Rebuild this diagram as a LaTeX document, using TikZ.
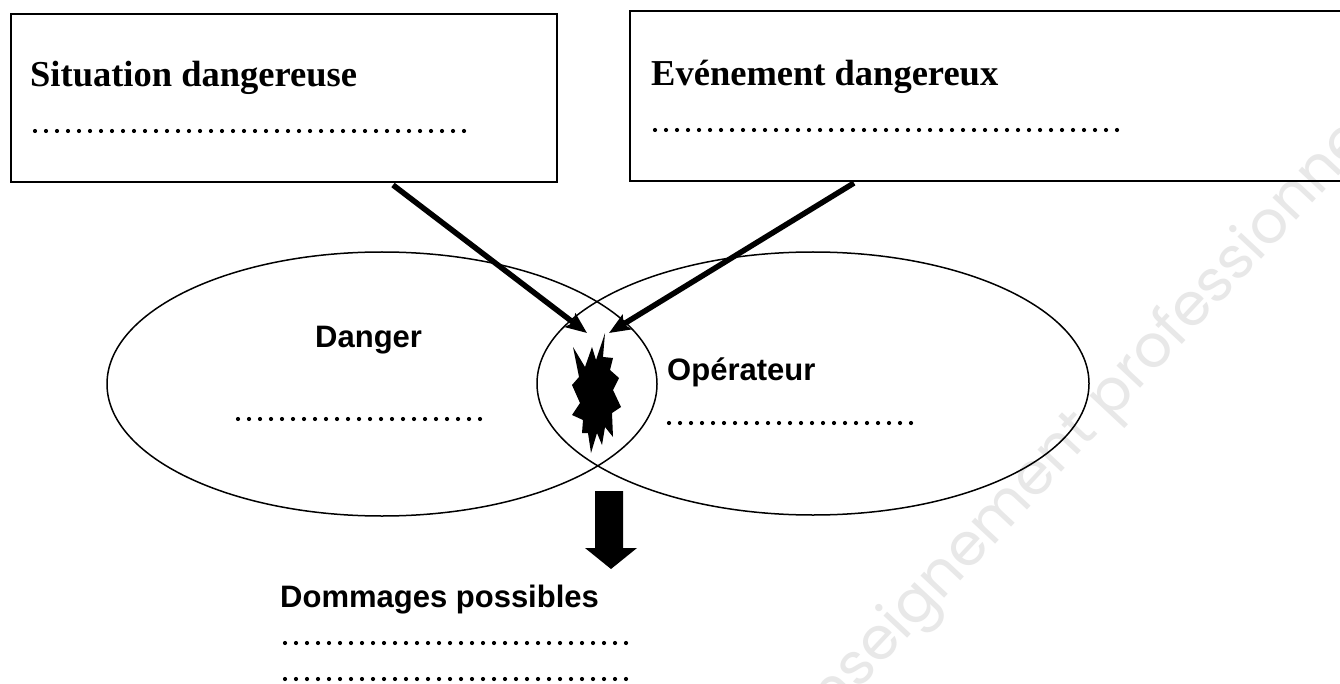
\documentclass[tikz,border=0pt]{standalone}
\usepackage{fontspec}
\setmainfont{Liberation Serif}
\newfontfamily\arialfont{Liberation Sans}
\newfontfamily\wmfont{Poppins}
\usetikzlibrary{arrows.meta,shapes.geometric}
\begin{document}
\begin{tikzpicture}[x=1pt,y=-1pt,
  boxstyle/.style={draw=black, line width=2pt, inner sep=0pt, anchor=north west},
  ovalstyle/.style={draw=black, line width=1.5pt, ellipse, inner sep=0pt},
  seriflbl/.style={font=\fontsize{36.5}{40}\selectfont\bfseries, anchor=base west, inner sep=0pt},
  sanslbl/.style={font=\arialfont\fontsize{31}{36}\selectfont\bfseries, anchor=base west, inner sep=0pt},
  dotrow/.style={line width=4.2pt, line cap=round, dash pattern=on 0pt off 11pt},
  thickarrow/.style={line width=5.5pt, -{Stealth[length=21pt, width=17pt, inset=4pt]}},
  wm/.style={font=\wmfont\fontsize{59}{62}\selectfont, text=black!9, inner sep=0pt}
]
\useasboundingbox (0,0) rectangle (1340,684);
\fill[white] (0,0) rectangle (1340,684);

% watermark
\node[wm, rotate=47, anchor=base west] (wmk) at (808,745) {enseignement professionnel};

% boxes
\node[boxstyle, minimum width=546pt, minimum height=168pt] (sit) at (10,13) {};
\node[boxstyle, minimum width=720pt, minimum height=170pt] (evt) at (629,10) {};

\node[seriflbl] (sitlbl) at (30,87) {Situation dangereuse};
\node[seriflbl] (evtlbl) at (651,86) {Evénement dangereux};
\draw[dotrow] (35,131) -- (475,131);
\draw[dotrow] (655,130) -- (1128,130);

% ellipses
\node[ovalstyle, minimum width=550pt, minimum height=264pt] (dangeroval) at (382,384) {};
\node[ovalstyle, minimum width=552pt, minimum height=263pt] (opoval) at (813,383.5) {};

\node[sanslbl] (dangerlbl) at (315,347) {Danger};
\node[sanslbl] (oplbl) at (667,380) {Opérateur};
\draw[dotrow] (238,419) -- (485,419);
\draw[dotrow] (669,423) -- (917,423);

% arrows
\coordinate (s1) at (393,185);
\coordinate (t1) at (587,333);
\coordinate (s2) at (854,183);
\coordinate (t2) at (609,333);
\draw[thickarrow] (s1) -- (t1);
\draw[thickarrow] (s2) -- (t2);

% starburst
\fill[black] (605,333) -- (603,357) -- (613,358) -- (610,370) -- (619,378) -- (613,390)
  -- (621,407) -- (612,413) -- (613,437) -- (605,427) -- (602,445) -- (597,433)
  -- (591,453) -- (588,433) -- (582,433) -- (583,420) -- (572,415) -- (580,403)
  -- (572,385) -- (579,377) -- (573,347) -- (585,367) -- (592,347) -- (596,360) -- cycle;

% block arrow
\fill[black] (595,491) -- (623,491) -- (623,548) -- (637,548) -- (611,569)
  -- (585,548) -- (595,548) -- cycle;

\node[sanslbl] (dmglbl) at (280,607) {Dommages possibles};
\draw[dotrow] (285,643) -- (637,643);
\draw[dotrow] (285,679) -- (637,679);
\end{tikzpicture}
\end{document}
